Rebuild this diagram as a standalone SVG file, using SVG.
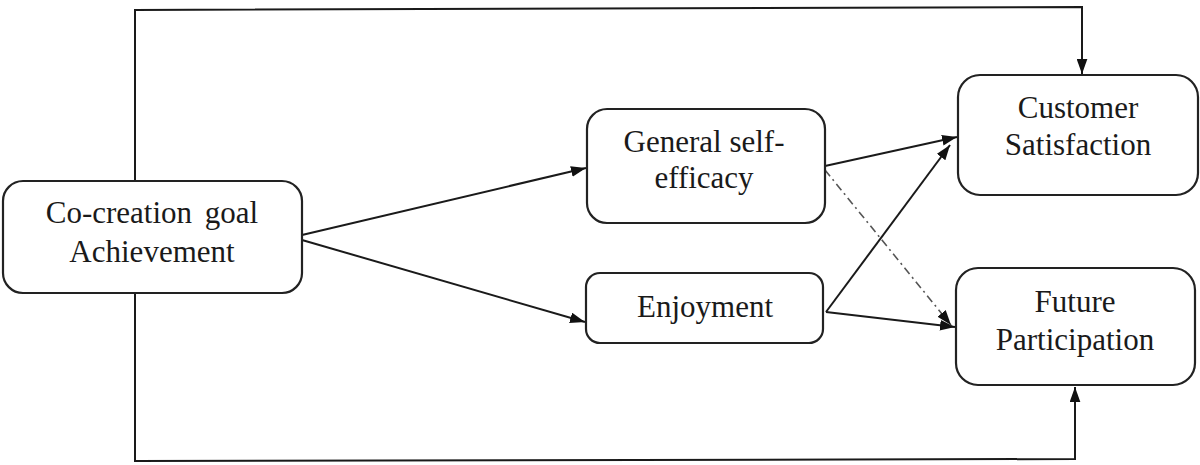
<svg xmlns="http://www.w3.org/2000/svg" width="1200" height="465" viewBox="0 0 1200 465">
<style>
.box{fill:#fff;stroke:#222;stroke-width:2.2}
.t{font-family:'Liberation Serif','Times New Roman',serif;font-size:31px;fill:#1a1a1a;text-anchor:middle}
.c{fill:none;stroke:#1a1a1a;stroke-width:2}
.d{fill:none;stroke:#555;stroke-width:1.6;stroke-dasharray:8 4 2 4}
</style>
<defs>
<marker id="ah" viewBox="0 0 14 10" refX="14" refY="5" markerWidth="15" markerHeight="11" markerUnits="userSpaceOnUse" orient="auto">
<path d="M0,0 L14,5 L0,10 Z" fill="#111"/>
</marker>
</defs>
<g id="connectors">
<polyline class="c" points="135,181 135,10 1082,7 1082,74" marker-end="url(#ah)"/>
<polyline class="c" points="135,293 135,461 1075,459 1075,387" marker-end="url(#ah)"/>
<line class="c" x1="302" y1="235" x2="586" y2="168" marker-end="url(#ah)"/>
<line class="c" x1="302" y1="240" x2="585" y2="322" marker-end="url(#ah)"/>
<line class="c" x1="825" y1="166" x2="957" y2="137" marker-end="url(#ah)"/>
<line class="c" x1="826" y1="312" x2="950" y2="145" marker-end="url(#ah)"/>
<line class="c" x1="826" y1="312" x2="955" y2="327" marker-end="url(#ah)"/>
<line class="d" x1="825" y1="170" x2="951" y2="325" marker-end="url(#ah)"/>
</g>
<g id="cocreation">
<rect class="box" x="3" y="181" width="299" height="112" rx="20"/>
<text class="t" x="152" y="223" word-spacing="5">Co-creation goal</text>
<text class="t" x="152" y="262">Achievement</text>
</g>
<g id="selfefficacy">
<rect class="box" x="587" y="109" width="238" height="114" rx="20"/>
<text class="t" x="704" y="152">General self-</text>
<text class="t" x="704" y="188">efficacy</text>
</g>
<g id="enjoyment">
<rect class="box" x="586" y="273" width="237" height="70" rx="14"/>
<text class="t" x="705" y="317">Enjoyment</text>
</g>
<g id="satisfaction">
<rect class="box" x="958" y="75" width="240" height="120" rx="22"/>
<text class="t" x="1078" y="118">Customer</text>
<text class="t" x="1078" y="155">Satisfaction</text>
</g>
<g id="participation">
<rect class="box" x="956" y="268" width="239" height="117" rx="22"/>
<text class="t" x="1075" y="312">Future</text>
<text class="t" x="1075" y="350">Participation</text>
</g>
</svg>
